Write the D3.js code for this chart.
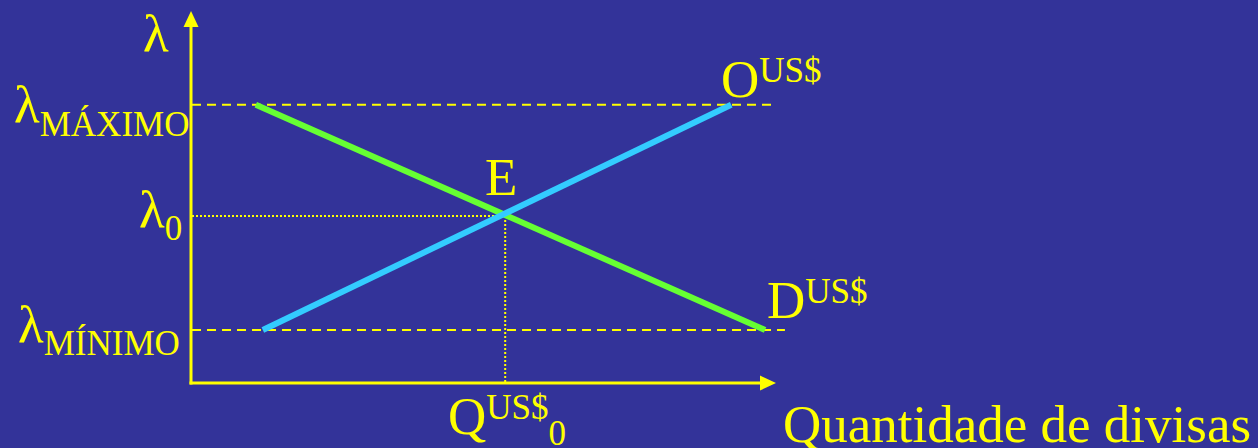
<!DOCTYPE html>
<html>
<head>
<meta charset="UTF-8">
<title>Mercado de divisas</title>
<script src="https://cdn.jsdelivr.net/npm/d3@7/dist/d3.min.js"></script>
<style>
body{margin:0;background:#333399;overflow:hidden;}
text{font-family:"Liberation Serif","Times New Roman",serif;fill:#ffff00;}
</style>
</head>
<body>
<script>
var width=1258,height=448;
// valores (eixos 0-100)
var lambdaMax=75, lambda0=45, lambdaMin=14.3;
var q0=53.8;
var oferta=[[12.3,lambdaMin],[92.5,lambdaMax]];   // O US$
var demanda=[[11.1,lambdaMax],[98.3,lambdaMin]];  // D US$
var limites=[[lambdaMax,100.3],[lambdaMin,101.7]]; // linhas tracejadas

var x=d3.scaleLinear().domain([0,100]).range([191,775]);
var y=d3.scaleLinear().domain([0,100]).range([383,12]);

var svg=d3.select("body").append("svg")
  .attr("width",width).attr("height",height);
svg.append("rect").attr("width",width).attr("height",height).attr("fill","#333399");

var amarelo="#ffff00";

// tracejadas max / min
svg.selectAll(".lim").data(limites).enter().append("line")
  .attr("x1",x(0)+1).attr("x2",function(d){return x(d[1]);})
  .attr("y1",function(d){return y(d[0]);}).attr("y2",function(d){return y(d[0]);})
  .attr("stroke",amarelo).attr("stroke-width",2).attr("stroke-dasharray","9,6");

// pontilhadas do equilibrio
svg.append("line")
  .attr("x1",x(0)+1).attr("x2",x(q0)).attr("y1",y(lambda0)).attr("y2",y(lambda0))
  .attr("stroke",amarelo).attr("stroke-width",2).attr("stroke-dasharray","2,2");
svg.append("line")
  .attr("x1",x(q0)).attr("x2",x(q0)).attr("y1",y(lambda0)).attr("y2",y(0))
  .attr("stroke",amarelo).attr("stroke-width",2).attr("stroke-dasharray","2,2");

// curvas
var linha=d3.line().x(function(d){return x(d[0]);}).y(function(d){return y(d[1]);});
svg.append("path").datum(demanda).attr("d",linha)
  .attr("fill","none").attr("stroke","#66ff33").attr("stroke-width",6);
svg.append("path").datum(oferta).attr("d",linha)
  .attr("fill","none").attr("stroke","#33ccff").attr("stroke-width",6);

// eixos com setas
svg.append("line").attr("x1",x(0)).attr("x2",x(0)).attr("y1",y(0)+1.5).attr("y2",y(100)+14)
  .attr("stroke",amarelo).attr("stroke-width",3);
svg.append("line").attr("x1",x(0)-1.5).attr("x2",x(100)-14).attr("y1",y(0)).attr("y2",y(0))
  .attr("stroke",amarelo).attr("stroke-width",3);
svg.append("path").attr("fill",amarelo)
  .attr("d","M"+x(0)+","+(y(100)-1)+"L"+(x(0)+7.5)+","+(y(100)+15)+"L"+(x(0)-7.5)+","+(y(100)+15)+"Z");
svg.append("path").attr("fill",amarelo)
  .attr("d","M"+(x(100)+1)+","+y(0)+"L"+(x(100)-15)+","+(y(0)-7.5)+"L"+(x(100)-15)+","+(y(0)+7.5)+"Z");

// rotulos: texto principal + sobrescrito / subscrito
function rotulo(px,py,main,sup,sub,subDy){
  var t=svg.append("text").attr("x",px).attr("y",py).attr("font-size",53);
  t.append("tspan").text(main);
  if(sup){t.append("tspan").attr("font-size",35).attr("dy",-15).text(sup);}
  if(sub){t.append("tspan").attr("font-size",35).attr("dy",subDy).text(sub);}
  return t;
}
rotulo(143,51,"λ");
rotulo(14,y(lambdaMax)+17,"λ",null,"MÁXIMO",14);
rotulo(139,y(lambda0)+11,"λ",null,"0",13);
rotulo(18,y(lambdaMin)+12,"λ",null,"MÍNIMO",13);
rotulo(485,195,"E");
rotulo(721,97,"O","US$");
rotulo(767,318,"D","US$");
rotulo(448,434,"Q","US$","0",26);
svg.append("text").attr("x",783).attr("y",442).attr("font-size",53).text("Quantidade de divisas");
</script>
</body>
</html>
